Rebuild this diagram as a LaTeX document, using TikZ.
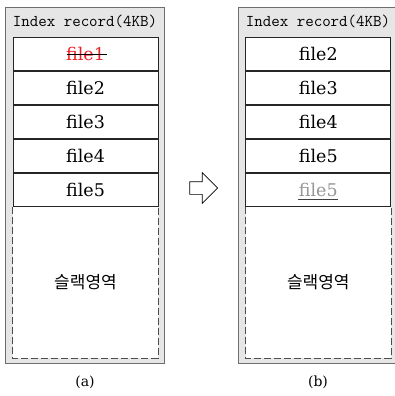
\documentclass[tikz,border=0pt]{standalone}
\usepackage{fontspec}
\setmainfont{DejaVu Serif}
\newfontfamily\krfont{Noto Sans CJK KR}
\newfontfamily\monofont{Latin Modern Mono}
\definecolor{boxgray}{RGB}{230, 230, 230}
\definecolor{edgegray}{RGB}{110, 110, 110}
\definecolor{delred}{RGB}{240, 30, 40}
\definecolor{copygray}{RGB}{150, 150, 150}
\usepackage{tikz}
\usetikzlibrary{shapes.arrows, positioning}

\begin{document}
\begin{tikzpicture}[x=1pt, y=-1pt,
    record/.style={draw=edgegray, fill=boxgray, line width=1.6pt, minimum width=159pt, minimum height=356pt, inner sep=0pt},
    entry/.style={draw=black!85, fill=white, line width=0.8pt, minimum width=145pt, minimum height=33.2pt, inner sep=0pt, font=\fontsize{17.5}{20}\selectfont},
    slack/.style={fill=white, minimum width=145pt, minimum height=151pt, inner sep=0pt, font=\krfont\fontsize{17}{20}\selectfont},
    title/.style={font=\monofont\fontsize{16.5}{18}\selectfont, inner sep=0pt},
    caption/.style={font=\fontsize{14}{16}\selectfont, inner sep=0pt}]
  \useasboundingbox (0,0) rectangle (395,396);

  % (a) before deleting
  \node[record] (reca) at (85, 185.5) {};
  \node[title] (titlea) at (85, 21) {Index record(4KB)};
  \node[entry] (a1) at (85.5, 53.6) {\textcolor{delred}{file1}};
  \draw[black, line width=0.8pt] ([xshift=-19pt, yshift=-1pt]a1.center) -- ([xshift=21pt, yshift=-1pt]a1.center);
  \node[entry, below=0pt of a1] (a2) {file2};
  \node[entry, below=0pt of a2] (a3) {file3};
  \node[entry, below=0pt of a3] (a4) {file4};
  \node[entry, below=0pt of a4] (a5) {file5};
  \node[slack, below=0pt of a5] (sa) {슬랙영역};
  \draw[edgegray!70!black, line width=1pt, dash pattern=on 7pt off 3pt] (sa.north west) -- (sa.south west) -- (sa.south east) -- (sa.north east);
  \node[caption] (capa) at (85, 382) {(a)};

  % arrow
  \node[single arrow, draw=black, fill=white, line width=0.7pt, minimum height=28pt, minimum width=30pt, single arrow head extend=9pt, inner sep=6pt] (step) at (200.5, 188) {};

  % (b) after deleting
  \node[record] (recb) at (318, 185.5) {};
  \node[title] (titleb) at (318, 21) {Index record(4KB)};
  \node[entry] (b1) at (318.3, 53.6) {file2};
  \node[entry, below=0pt of b1] (b2) {file3};
  \node[entry, below=0pt of b2] (b3) {file4};
  \node[entry, below=0pt of b3] (b4) {file5};
  \node[entry, below=0pt of b4] (b5) {\textcolor{copygray}{file5}};
  \draw[black!75, line width=0.8pt] ([xshift=-20pt, yshift=-10pt]b5.center) -- ([xshift=20pt, yshift=-10pt]b5.center);
  \node[slack, below=0pt of b5] (sb) {슬랙영역};
  \draw[edgegray!70!black, line width=1pt, dash pattern=on 7pt off 3pt] (sb.north west) -- (sb.south west) -- (sb.south east) -- (sb.north east);
  \node[caption] (capb) at (318, 382) {(b)};
\end{tikzpicture}
\end{document}
